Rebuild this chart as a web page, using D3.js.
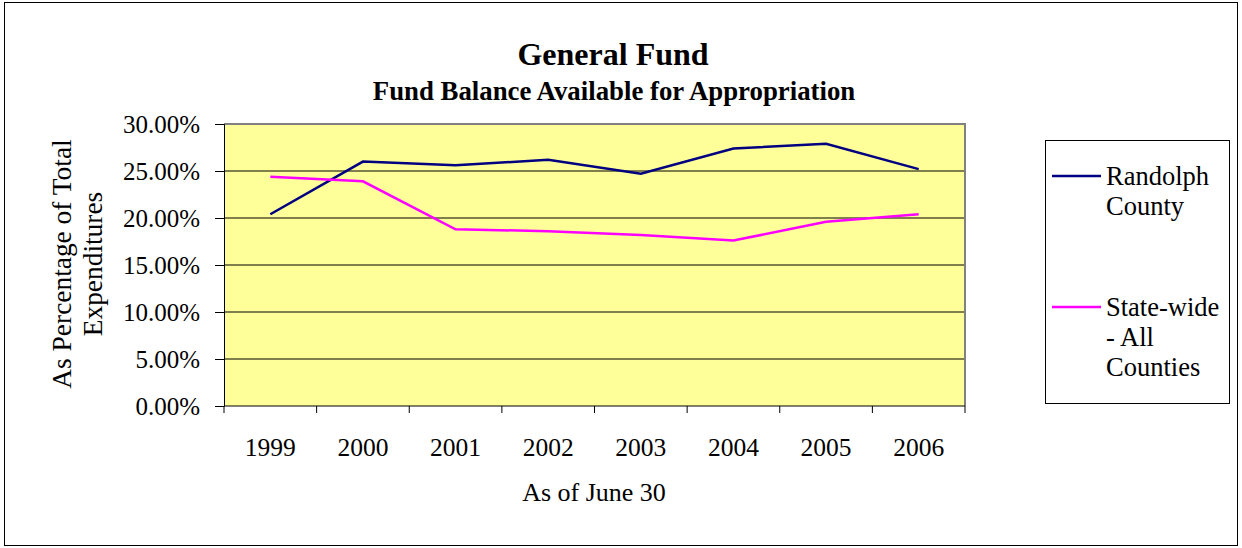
<!DOCTYPE html>
<html><head><meta charset="utf-8">
<script src="https://cdn.jsdelivr.net/npm/d3@7"></script>
<style>body{margin:0;background:#fff}text{font-family:"Liberation Serif","Times New Roman",serif}</style>
</head><body><svg id="c" width="1242" height="548"></svg>
<script>
const years = ["1999","2000","2001","2002","2003","2004","2005","2006"];
const randolph = [0.204,0.260,0.256,0.262,0.247,0.274,0.279,0.252];
const statewide = [0.244,0.239,0.188,0.186,0.182,0.176,0.196,0.204];
const yTicks = [0,0.05,0.10,0.15,0.20,0.25,0.30];
const seriesNames = [["Randolph","County"],["State-wide","- All","Counties"]];
const colors = ["#000080","#FF00FF"];

const svg = d3.select("#c");
svg.append("rect").attr("x",4.5).attr("y",2.5).attr("width",1233).attr("height",543).attr("fill","#fff").attr("stroke","#000").attr("stroke-width",1);

const L=224,R=965,T=124,B=406;
const x = d3.scaleBand().domain(years).range([L,R]);
const y = d3.scaleLinear().domain([0,0.30]).range([B,T]);

svg.append("rect").attr("x",L).attr("y",T).attr("width",R-L).attr("height",B-T).attr("fill","#FFFF99");
svg.append("g").selectAll("line").data(yTicks.slice(1)).join("line")
  .attr("x1",L).attr("x2",R).attr("y1",d=>y(d)).attr("y2",d=>y(d)).attr("stroke","#000").attr("stroke-width",1);
svg.append("path").attr("d",`M${L},${T}H${R}V${B}`).attr("fill","none").attr("stroke","#808080").attr("stroke-width",2);

const yAxis = svg.append("g").attr("transform",`translate(${L},0)`)
  .call(d3.axisLeft(y).tickValues(yTicks).tickFormat(d3.format(".2%")).tickSize(9).tickPadding(15));
yAxis.select(".domain").attr("stroke","#000");
yAxis.selectAll("text").attr("font-size",25).attr("fill","#000").style("font-family","'Liberation Serif',serif");

const xAxis = svg.append("g").attr("transform",`translate(0,${B})`)
  .call(d3.axisBottom(x).tickSize(0).tickPadding(32));
xAxis.select(".domain").remove();
xAxis.selectAll("text").attr("font-size",25.5).attr("fill","#000").style("font-family","'Liberation Serif',serif");
const tickPos = years.map(d=>x(d)).concat([R]);
svg.append("g").selectAll("line").data(tickPos).join("line")
  .attr("x1",d=>d).attr("x2",d=>d).attr("y1",B).attr("y2",B+7).attr("stroke","#000");
svg.append("line").attr("x1",L).attr("x2",R).attr("y1",B).attr("y2",B).attr("stroke","#000");

const line = d3.line().x((d,i)=>x(years[i])+x.bandwidth()/2).y(d=>y(d));
[randolph,statewide].forEach((s,k)=>{
  svg.append("path").datum(s).attr("d",line).attr("fill","none").attr("stroke",colors[k]).attr("stroke-width",2.5);
});

svg.append("text").attr("x",613).attr("y",65).attr("text-anchor","middle").attr("font-size",32).attr("font-weight","bold").text("General Fund");
svg.append("text").attr("x",614).attr("y",100).attr("text-anchor","middle").attr("font-size",26.8).attr("font-weight","bold").text("Fund Balance Available for Appropriation");
svg.append("text").attr("x",594).attr("y",501).attr("text-anchor","middle").attr("font-size",26).text("As of June 30");
const yt = svg.append("text").attr("transform","translate(71,264) rotate(-90)").attr("text-anchor","middle").attr("font-size",27.4);
yt.append("tspan").attr("x",0).attr("dy",0).text("As Percentage of Total");
yt.append("tspan").attr("x",0).attr("dy",31).text("Expenditures");

svg.append("rect").attr("x",1045.5).attr("y",140.5).attr("width",184).attr("height",263).attr("fill","#fff").attr("stroke","#000");
const ly = [176,307];
seriesNames.forEach((n,k)=>{
  svg.append("line").attr("x1",1052).attr("x2",1101).attr("y1",ly[k]).attr("y2",ly[k]).attr("stroke",colors[k]).attr("stroke-width",2.5);
  n.forEach((t,j)=>{
    svg.append("text").attr("x",1106).attr("y",ly[k]+9+j*30).attr("font-size",26.5).text(t);
  });
});
</script></body></html>
